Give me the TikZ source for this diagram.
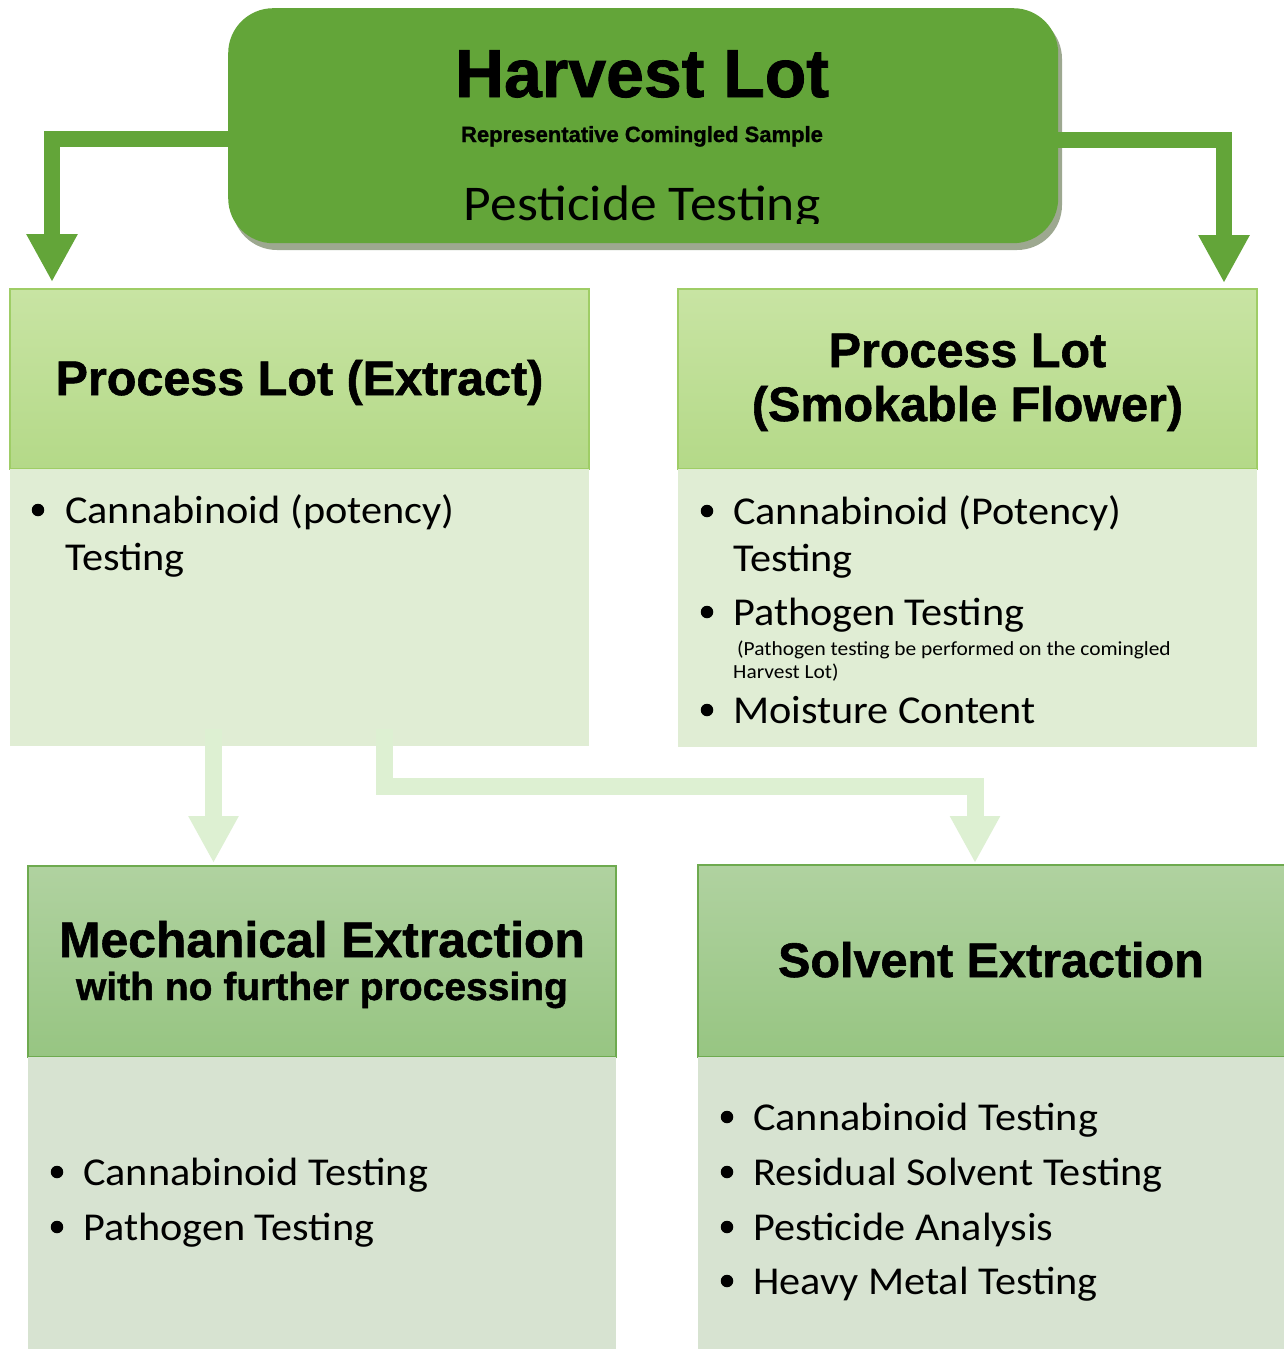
\documentclass[tikz,border=0pt]{standalone}
\usepackage{fontspec}
\setmainfont{Carlito}[FakeStretch=1.07]
\newfontfamily\hfont{Liberation Sans Bold}[FakeBold=1.2]
\usetikzlibrary{arrows.meta}
\definecolor{hgreen}{HTML}{63A539}
\definecolor{hshadow}{HTML}{9DA890}
\definecolor{lgreen}{HTML}{DDF0D2}
\definecolor{phtop}{HTML}{C8E4A3}
\definecolor{phbot}{HTML}{B4D988}
\definecolor{phline}{HTML}{9FCD66}
\definecolor{pbody}{HTML}{E0EDD4}
\definecolor{ehtop}{HTML}{B0D2A0}
\definecolor{ehbot}{HTML}{97C582}
\definecolor{ehline}{HTML}{6EAA4F}
\definecolor{ebody}{HTML}{D7E3D1}
\tikzset{
  darrow/.style={line width=16pt, draw=hgreen, line join=miter, -{Triangle[width=48pt,length=48pt]}},
  larrow/.style={line width=17pt, draw=lgreen, line join=miter, -{Triangle[width=47pt,length=47pt]}},
  boxbase/.style={anchor=north west, inner sep=0pt, outer sep=0pt, minimum width=#1},
  phead/.style={boxbase=#1, top color=phtop, bottom color=phbot, draw=phline, line width=1.2pt},
  pbodybox/.style={boxbase=#1, fill=pbody},
  ehead/.style={boxbase=#1, top color=ehtop, bottom color=ehbot, draw=ehline, line width=1.2pt},
  ebodybox/.style={boxbase=#1, fill=ebody},
  htxt/.style={anchor=base, inner sep=0pt, font=\hfont\fontsize{48.5}{58}\selectfont},
  btxt/.style={anchor=base west, inner sep=0pt, font=\fontsize{39.5}{47}\selectfont},
  stxt/.style={anchor=base west, inner sep=0pt, font=\fontsize{20}{24}\selectfont},
  bdot/.style={circle, fill=black, inner sep=0pt, minimum size=12.5pt},
}
\begin{document}
\begin{tikzpicture}[x=1pt,y=-1pt]
\useasboundingbox (0,0) rectangle (1284,1349);
\fill[white] (0,0) rectangle (1284,1349);

% ---------- Harvest lot ----------
\fill[hshadow, rounded corners=45pt] (232,14) rectangle (1062,250);
\node[anchor=north west, inner sep=0pt, fill=hgreen, rounded corners=45pt,
      minimum width=830pt, minimum height=235pt] (harvest) at (228,8) {};
\node[anchor=base, inner sep=0pt, font=\hfont\fontsize{68}{80}\selectfont] (htitle) at (642,97) {Harvest Lot};
\node[anchor=base, inner sep=0pt, font=\hfont\fontsize{22}{26}\selectfont] (hsub) at (642,142) {Representative Comingled Sample};
\begin{scope}
  \clip (0,0) rectangle (1284,223);
  \node[anchor=base, inner sep=0pt, font=\fontsize{50}{58}\selectfont] (hpest) at (642,220) {Pesticide Testing};
\end{scope}

% ---------- Process lots ----------
\node[phead=579pt, minimum height=180pt] (plxh) at (10,289) {};
\node[pbodybox=579pt, minimum height=277pt] (plxb) at (10,469) {};
\node[phead=579pt, minimum height=180pt] (pfh) at (678,289) {};
\node[pbodybox=579pt, minimum height=278pt] (pfb) at (678,469) {};

\node[htxt] (plxt) at (299.5,395) {Process Lot (Extract)};
\node[htxt] (pft1) at (967.5,367) {Process Lot};
\node[htxt] (pft2) at (967.5,421) {(Smokable Flower)};

% ---------- Extraction boxes ----------
\node[ehead=588pt, minimum height=191pt] (meh) at (28,866) {};
\node[ebodybox=588pt, minimum height=300pt] (meb) at (28,1057) {};
\node[ehead=592pt, minimum height=192pt] (seh) at (698,865) {};
\node[ebodybox=592pt, minimum height=300pt] (seb) at (698,1057) {};

\node[anchor=base, inner sep=0pt, font=\hfont\fontsize{49.8}{58}\selectfont] (met1) at (322,957) {Mechanical Extraction};
\node[anchor=base, inner sep=0pt, font=\hfont\fontsize{39}{46}\selectfont] (met2) at (322,1000) {with no further processing};
\node[htxt] (set) at (991,977) {Solvent Extraction};

% ---------- Dark arrows ----------
\coordinate (ltip) at (52,282);
\coordinate (rtip) at (1224,283);
\draw[darrow] ([yshift=-13.5pt]harvest.west) -| (ltip);
\draw[darrow] ([yshift=-14.5pt]harvest.east) -| (rtip);

% ---------- Light arrows ----------
\coordinate (a1s) at (213.5,729);
\coordinate (a1t) at (213.5,863);
\coordinate (a2s) at (384,729);
\coordinate (a2m) at (975,786);
\coordinate (a2t) at (975,863);
\draw[larrow] (a1s) -- (a1t);
\draw[larrow] (a2s) |- (a2m) -- (a2t);

% ---------- Bullets: left process lot ----------
\node[bdot] (b1) at (38,510) {};
\node[btxt] (t1) at (65,523) {Cannabinoid (potency)};
\node[btxt] (t1b) at (65,570) {Testing};

% ---------- Bullets: right process lot ----------
\node[bdot] (b2) at (707,511) {};
\node[btxt] (t2) at (733,524) {Cannabinoid (Potency)};
\node[btxt] (t2b) at (733,571) {Testing};
\node[bdot] (b3) at (707,612) {};
\node[btxt] (t3) at (733,625) {Pathogen Testing};
\node[stxt] (t3a) at (737,655) {(Pathogen testing be performed on the comingled};
\node[stxt] (t3b) at (733,678) {Harvest Lot)};
\node[bdot] (b4) at (707,710) {};
\node[btxt] (t4) at (733,723) {Moisture Content};

% ---------- Bullets: mechanical ----------
\node[bdot] (b5) at (57,1172) {};
\node[btxt] (t5) at (83,1185) {Cannabinoid Testing};
\node[bdot] (b6) at (57,1227) {};
\node[btxt] (t6) at (83,1240) {Pathogen Testing};

% ---------- Bullets: solvent ----------
\node[bdot] (b7) at (727,1117) {};
\node[btxt] (t7) at (753,1130) {Cannabinoid Testing};
\node[bdot] (b8) at (727,1172) {};
\node[btxt] (t8) at (753,1185) {Residual Solvent Testing};
\node[bdot] (b9) at (727,1227) {};
\node[btxt] (t9) at (753,1240) {Pesticide Analysis};
\node[bdot] (b10) at (727,1281) {};
\node[btxt] (t10) at (753,1294) {Heavy Metal Testing};
\end{tikzpicture}
\end{document}
